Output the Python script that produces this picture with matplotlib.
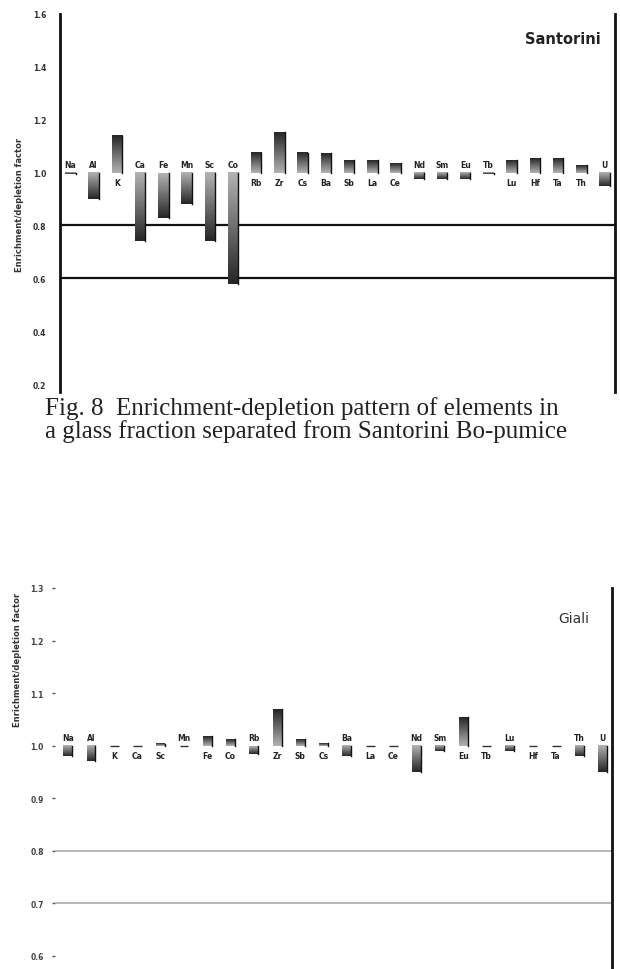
import numpy as np
import matplotlib
matplotlib.use("Agg")
import matplotlib.pyplot as plt

# ---------------- data ----------------
elements_s = ["Na", "Al", "K", "Ca", "Fe", "Mn", "Sc", "Co", "Rb", "Zr", "Cs", "Ba",
              "Sb", "La", "Ce", "Nd", "Sm", "Eu", "Tb", "Lu", "Hf", "Ta", "Th", "U"]
values_s = [0.995, 0.90, 1.14, 0.74, 0.83, 0.88, 0.74, 0.58, 1.076, 1.153, 1.076, 1.073,
            1.047, 1.047, 1.036, 0.975, 0.975, 0.975, 0.995, 1.047, 1.055, 1.055, 1.03, 0.95]
ticks_s = [0.2, 0.4, 0.6, 0.8, 1.0, 1.2, 1.4, 1.6]
ticklabels_s = ["0.2", "0.4", "0.6", "0.8", "1.0", "1.2", "1.4", "1.6"]
reflines_s = [0.8, 0.6]

elements_g = ["Na", "Al", "K", "Ca", "Sc", "Mn", "Fe", "Co", "Rb", "Zr", "Sb", "Cs",
              "Ba", "La", "Ce", "Nd", "Sm", "Eu", "Tb", "Lu", "Hf", "Ta", "Th", "U"]
values_g = [0.98, 0.97, 1.002, 1.002, 1.004, 0.997, 1.019, 1.013, 0.985, 1.07, 1.013, 1.005,
            0.98, 1.002, 1.002, 0.95, 0.99, 1.055, 1.002, 0.99, 1.002, 1.002, 0.98, 0.95]
ticks_g = [0.6, 0.7, 0.8, 0.9, 1.0, 1.1, 1.2, 1.3]
ticklabels_g = ["0.6", "0.7", "0.8", "0.9", "1.0", "1.1", "1.2", "1.3"]
reflines_g = [0.8, 0.7]

baseline = 1.0
caption = ("Fig. 8  Enrichment-depletion pattern of elements in\n"
           "a glass fraction separated from Santorini Bo-pumice")
ylabel = "Enrichment/depletion factor"

# ---------------- figure ----------------
fig = plt.figure(figsize=(6.2, 9.7), dpi=100)
fig.patch.set_facecolor("white")


def draw_bars(ax, elements, values, width, label_off, skip_below=()):
    grad = np.linspace(0, 1, 64).reshape(-1, 1)
    for i, (el, v) in enumerate(zip(elements, values)):
        lo, hi = min(v, baseline), max(v, baseline)
        if hi - lo < 0.004:
            ax.plot([i - width / 2, i + width / 2], [baseline, baseline],
                    color="#333333", lw=1.0, solid_capstyle="butt")
        else:
            # darker towards the tip of the bar
            img = 0.15 + 0.55 * grad
            if v >= baseline:
                img = img[::-1]
            ax.imshow(img, cmap="gray", vmin=0, vmax=1, origin="lower",
                      extent=(i - width / 2, i + width / 2, lo, hi),
                      aspect="auto", interpolation="bilinear", zorder=3)
            ax.plot([i + width / 2, i + width / 2], [lo, hi], color="#111111",
                    lw=1.0, zorder=4)
        if v >= baseline and el not in skip_below:
            ax.annotate(el, (i, baseline), xytext=(0, -label_off), textcoords="offset points",
                        ha="center", va="top", fontsize=5.5, fontweight="bold", color="#222222")
        else:
            ax.annotate(el, (i, baseline), xytext=(0, label_off * 0.6), textcoords="offset points",
                        ha="center", va="bottom", fontsize=5.5, fontweight="bold", color="#222222")


# ----- Santorini -----
ax1 = fig.add_axes([60 / 620, 1 - 393 / 970, 555 / 620, 378 / 970])
ax1.set_xlim(-0.45, 23.45)
ax1.set_ylim(0.17, 1.6)
for y in reflines_s:
    ax1.axhline(y, color="#111111", lw=1.6, zorder=2)
draw_bars(ax1, elements_s, values_s, 0.45, 4, skip_below=("Na",))
for s in ["top", "bottom"]:
    ax1.spines[s].set_visible(False)
for s in ["left", "right"]:
    ax1.spines[s].set_linewidth(2.0)
    ax1.spines[s].set_color("#111111")
ax1.set_xticks([])
ax1.set_yticks(ticks_s)
ax1.set_yticklabels(ticklabels_s, fontsize=5.5, fontweight="bold", color="#333333")
ax1.tick_params(axis="y", length=0, pad=10)
ax1.text(0.975, 0.935, "Santorini", transform=ax1.transAxes, ha="right", va="center",
         fontsize=10.5, fontweight="bold", color="#222222")
fig.text(20 / 620, 1 - 205 / 970, ylabel, rotation=90, ha="center", va="center",
         fontsize=6, fontweight="bold", color="#333333")

# ----- caption -----
fig.text(45 / 620, 1 - 420 / 970, caption, ha="left", va="center",
         fontsize=18, family=["Liberation Serif", "DejaVu Serif"], color="#222222",
         linespacing=1.0)

# ----- Giali -----
ax2 = fig.add_axes([55 / 620, 0.0, 557 / 620, 1 - 589 / 970])
ax2.set_xlim(-0.55, 23.4)
ax2.set_ylim(0.575, 1.3)
for y in reflines_g:
    ax2.axhline(y, color="#aaaaaa", lw=1.2, zorder=2)
draw_bars(ax2, elements_g, values_g, 0.38, 4)
for s in ["top", "bottom", "left"]:
    ax2.spines[s].set_visible(False)
ax2.spines["right"].set_linewidth(2.0)
ax2.spines["right"].set_color("#111111")
ax2.set_xticks([])
ax2.set_yticks(ticks_g)
ax2.set_yticklabels(ticklabels_g, fontsize=5.5, fontweight="bold", color="#444444")
ax2.tick_params(axis="y", length=2, width=1, pad=6, color="#555555")
ax2.text(0.96, 0.92, "Giali", transform=ax2.transAxes, ha="right", va="center",
         fontsize=10, color="#333333")
fig.text(18 / 620, 1 - 660 / 970, ylabel, rotation=90, ha="center", va="center",
         fontsize=6, fontweight="bold", color="#333333")

fig.savefig("out.png", dpi=100, facecolor="white")
